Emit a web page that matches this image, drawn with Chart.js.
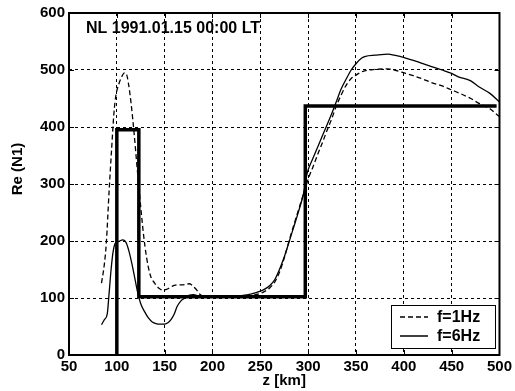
<!DOCTYPE html>
<html>
<head>
<meta charset="utf-8">
<script src="https://cdn.jsdelivr.net/npm/chart.js@4"></script>
<style>
  html, body { margin: 0; padding: 0; background: #fff; }
  canvas { display: block; }
</style>
</head>
<body>
<canvas id="chart" width="515" height="391"></canvas>
<script>
// f=1Hz (dashed)
const z1 = [84, 87, 89, 92, 94.5, 97, 99, 102, 105, 108, 110, 112, 115, 118, 120.5, 123, 126, 128, 131, 135, 139.5, 144, 148, 152, 156, 160, 164, 168, 172, 176, 180, 184, 187, 190, 200, 210, 220, 230, 240, 250, 255, 260, 265, 270, 275, 280, 285, 290, 295, 301, 305, 310, 315, 320, 325, 329, 335, 340, 345, 350, 355, 360, 370, 382, 390, 402, 410, 420, 429, 440, 450, 460, 470, 478, 490, 495, 500];
const re1 = [126, 160, 196, 290, 360, 425, 455, 475, 488, 495, 493, 478, 440, 390, 342, 295, 242, 210, 172, 140, 126, 117, 114, 115, 119, 122, 123, 123, 124, 125, 120, 113, 106, 103, 101, 101, 101, 102, 104, 108, 112, 118, 128, 145, 170, 200, 228, 255, 282, 313, 330, 352, 373, 395, 416, 435, 458, 474, 485, 491, 496, 499, 501, 502, 500, 494, 490, 484, 478, 472, 465, 458, 450, 442, 432, 425, 418];

// f=6Hz (solid)
const z6 = [84, 87, 90, 92, 94, 96, 98, 100, 103, 106, 108, 110, 113, 116, 119, 122, 125, 129, 133, 137, 141, 145, 149, 153, 157, 160, 163, 167, 171, 176, 180, 185, 190, 200, 210, 220, 230, 240, 250, 255, 260, 265, 270, 275, 280, 285, 290, 295, 299, 305, 310, 315, 320, 325, 330, 334, 340, 345, 350, 356, 360, 370, 384, 390, 402, 410, 420, 429, 440, 450, 457, 470, 478, 490, 500];
const re6 = [53, 62, 72, 110, 150, 180, 195, 198, 200, 202, 201, 196, 180, 158, 133, 108, 90, 76, 65, 58, 55, 54, 54, 56, 63, 72, 85, 95, 100, 105, 106, 104, 102, 101, 101, 102, 104, 107, 112, 116, 122, 132, 150, 172, 198, 225, 252, 282, 319, 345, 365, 385, 405, 425, 447, 465, 485, 500, 511, 521, 524, 526, 528, 526, 521, 517, 511, 506, 500, 494, 488, 481, 471, 459, 444];

// model step profile (thick)
const stepZ = [100, 100, 123, 123, 297, 297, 497];
const stepRe = [0, 395, 395, 102, 102, 437, 437];

const xTicks = [50, 100, 150, 200, 250, 300, 350, 400, 450, 500];
const yTicks = [0, 100, 200, 300, 400, 500, 600];

const pts = (xs, ys) => xs.map((x, i) => ({ x: x, y: ys[i] }));

const FONT = '"Liberation Sans", Arial, sans-serif';

const frame = {
  id: 'frame',
  afterDraw(chart) {
    const { ctx, chartArea: a, scales } = chart;
    ctx.save();
    // inward ticks
    ctx.strokeStyle = '#000';
    ctx.lineWidth = 1;
    ctx.setLineDash([]);
    ctx.beginPath();
    xTicks.forEach(v => {
      const px = Math.round(scales.x.getPixelForValue(v)) + 0.5;
      ctx.moveTo(px, a.bottom); ctx.lineTo(px, a.bottom - 5);
      ctx.moveTo(px, a.top); ctx.lineTo(px, a.top + 5);
    });
    yTicks.forEach(v => {
      const py = Math.round(scales.y.getPixelForValue(v)) + 0.5;
      ctx.moveTo(a.left, py); ctx.lineTo(a.left + 5, py);
      ctx.moveTo(a.right, py); ctx.lineTo(a.right - 5, py);
    });
    ctx.stroke();

    // box
    ctx.lineWidth = 2;
    ctx.strokeRect(a.left, a.top, a.right - a.left, a.bottom - a.top);

    // title inside the plot
    ctx.fillStyle = '#000';
    ctx.font = 'bold 16px ' + FONT;
    ctx.textAlign = 'left';
    ctx.textBaseline = 'middle';
    ctx.fillText('NL 1991.01.15 00:00 LT', 86, 29);

    // axis titles
    ctx.font = 'bold 15px ' + FONT;
    ctx.textAlign = 'center';
    ctx.fillText('z [km]', (a.left + a.right) / 2, 381);
    ctx.save();
    ctx.translate(18, 169);
    ctx.rotate(-Math.PI / 2);
    ctx.fillText('Re (N1)', 0, 0);
    ctx.restore();

    // legend
    const lx = 391, ly = 305, lw = 104, lh = 43;
    ctx.fillStyle = '#fff';
    ctx.fillRect(lx, ly, lw, lh);
    ctx.lineWidth = 1;
    ctx.strokeRect(lx + 0.5, ly + 0.5, lw, lh);
    ctx.font = 'bold 16px ' + FONT;
    const rows = [
      { label: 'f=1Hz', dash: [5, 3], y: ly + 12 },
      { label: 'f=6Hz', dash: [], y: ly + 31 }
    ];
    rows.forEach(r => {
      ctx.setLineDash(r.dash);
      ctx.lineWidth = 1.5;
      ctx.beginPath();
      ctx.moveTo(lx + 9, r.y);
      ctx.lineTo(lx + 37, r.y);
      ctx.stroke();
      ctx.setLineDash([]);
      ctx.fillStyle = '#000';
      ctx.textAlign = 'left';
      ctx.fillText(r.label, lx + 46, r.y + 1);
    });
    ctx.restore();
  }
};

new Chart(document.getElementById('chart').getContext('2d'), {
  type: 'scatter',
  data: {
    datasets: [
      {
        label: 'model',
        data: pts(stepZ, stepRe),
        showLine: true,
        borderColor: '#000',
        borderWidth: 3.5,
        pointRadius: 0,
        tension: 0
      },
      {
        label: 'f=1Hz',
        data: pts(z1, re1),
        showLine: true,
        borderColor: '#000',
        borderWidth: 1.3,
        borderDash: [5, 3],
        pointRadius: 0,
        cubicInterpolationMode: 'monotone'
      },
      {
        label: 'f=6Hz',
        data: pts(z6, re6),
        showLine: true,
        borderColor: '#000',
        borderWidth: 1.3,
        pointRadius: 0,
        cubicInterpolationMode: 'monotone'
      }
    ]
  },
  options: {
    responsive: false,
    animation: false,
    devicePixelRatio: 1,
    layout: { padding: { top: 13, right: 14, left: 0, bottom: 0 } },
    plugins: {
      legend: { display: false },
      tooltip: { enabled: false }
    },
    scales: {
      x: {
        type: 'linear',
        min: 50,
        max: 500,
        afterBuildTicks: s => { s.ticks = xTicks.map(v => ({ value: v })); },
        afterFit: s => { s.height = 36; },
        grid: { color: '#000', lineWidth: 1, drawTicks: false },
        border: { display: false, dash: [3, 3] },
        ticks: {
          color: '#000',
          padding: 3,
          maxRotation: 0,
          font: { family: FONT, size: 15, weight: 'bold' }
        }
      },
      y: {
        type: 'linear',
        min: 0,
        max: 600,
        afterBuildTicks: s => { s.ticks = yTicks.map(v => ({ value: v })); },
        afterFit: s => { s.width = 69; },
        grid: { color: '#000', lineWidth: 1, drawTicks: false },
        border: { display: false, dash: [3, 3] },
        ticks: {
          color: '#000',
          padding: 4,
          font: { family: FONT, size: 15, weight: 'bold' }
        }
      }
    }
  },
  plugins: [frame]
});
</script>
</body>
</html>
